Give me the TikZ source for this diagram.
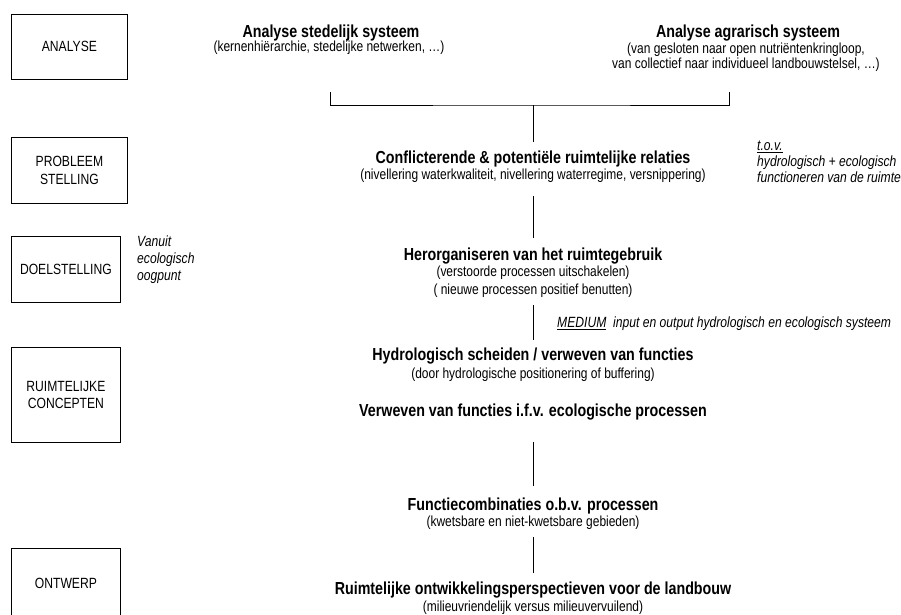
\documentclass[tikz,border=0pt]{standalone}
\usepackage{fontspec}
\setmainfont{Liberation Sans}[FakeStretch=0.82]
\usetikzlibrary{positioning}

\begin{document}
\begin{tikzpicture}[
  x=1pt, y=-1pt,
  stage/.style={draw, line width=0.8pt, anchor=north west, align=center, inner sep=0pt,
                minimum width=116pt, minimum height=65pt,
                font=\fontsize{14.8}{17.5}\selectfont},
  head/.style={anchor=base, inner sep=0pt, font=\bfseries\fontsize{17.4}{20}\selectfont},
  sub/.style={anchor=base, inner sep=0pt, align=center, font=\fontsize{14.6}{15.5}\selectfont},
  note/.style={anchor=north west, inner sep=0pt, align=left,
               font=\itshape\fontsize{14.8}{16}\selectfont},
  ln/.style={line width=0.8pt}
]
\clip (0,0) rectangle (901,614);

\node[stage] (analyse) at (11,14) {ANALYSE};
\node[stage, minimum height=66pt] (probleem) at (11,137) {PROBLEEM\\STELLING};
\node[stage, minimum width=109pt, minimum height=66pt] (doel) at (11,236) {DOELSTELLING};
\node[stage, minimum width=109pt, minimum height=95pt] (concept) at (11,347) {RUIMTELIJKE\\CONCEPTEN};
\node[stage, minimum width=109pt, minimum height=70pt] (ontwerp) at (11,548) {ONTWERP};

\node[head] (stad) at (331,37.2) {Analyse stedelijk systeem};
\node[sub] (stads) at (329,51.7) {(kernenhiërarchie, stedelijke netwerken, \dots)};
\node[head] (agr) at (748,37.2) {Analyse agrarisch systeem};
\node[sub, anchor=north] (agrs) at (746,42.5)
     {(van gesloten naar open nutriëntenkringloop,\\
      van collectief naar individueel landbouwstelsel, \dots)};

\node[head] (confl) at (533,163.2) {Conflicterende \& potentiële ruimtelijke relaties};
\node[sub] (confls) at (533,179.2)
     {(nivellering waterkwaliteit, nivellering waterregime, versnippering)};
\node[head] (herorg) at (533,260.2) {Herorganiseren van het ruimtegebruik};
\node[sub, anchor=north, font=\fontsize{14.6}{18}\selectfont] (herorgs) at (533,265.5)
     {(verstoorde processen uitschakelen)\\( nieuwe processen positief benutten)};
\node[head] (hydro) at (533,360.2) {Hydrologisch scheiden / verweven van functies};
\node[sub] (hydros) at (533,378.2) {(door hydrologische positionering of buffering)};
\node[head] (verw) at (533,416.2) {Verweven van functies i.f.v. ecologische processen};
\node[head] (combi) at (533,510.2) {Functiecombinaties o.b.v. processen};
\node[sub] (combis) at (533,526.7) {(kwetsbare en niet-kwetsbare gebieden)};
\node[head] (persp) at (533,594) {Ruimtelijke ontwikkelingsperspectieven voor de landbouw};
\node[sub] (persps) at (533,611) {(milieuvriendelijk versus milieuvervuilend)};

\node[note] (tov) at (757,140.7)
     {\underline{t.o.v.}\\hydrologisch + ecologisch\\functioneren van de ruimte};
\node[note, font=\itshape\fontsize{14.8}{17}\selectfont] (vanuit) at (137,235.7)
     {Vanuit\\ecologisch\\oogpunt};
\node[note, anchor=base west] (medium) at (557,327.3)
     {\underline{MEDIUM}\ \ input en output hydrologisch en ecologisch systeem};

\coordinate (bl) at (330,92);
\coordinate (br) at (729,92);
\coordinate (bm) at (533,105);
\draw[ln] (bl) |- (bm) -| (br);
\draw[ln, shorten >=8.5pt] (bm) -- (confl);
\draw[ln, shorten <=13.7pt, shorten >=9.5pt] (confls) -- (herorg);
\draw[ln, shorten <=7.7pt, shorten >=7.5pt] (herorgs) -- (hydro);
\draw[ln, shorten <=22pt, shorten >=11.5pt] (verw) -- (combi);
\draw[ln, shorten <=7.2pt, shorten >=8.5pt] (combis) -- (persp);
\end{tikzpicture}
\end{document}
